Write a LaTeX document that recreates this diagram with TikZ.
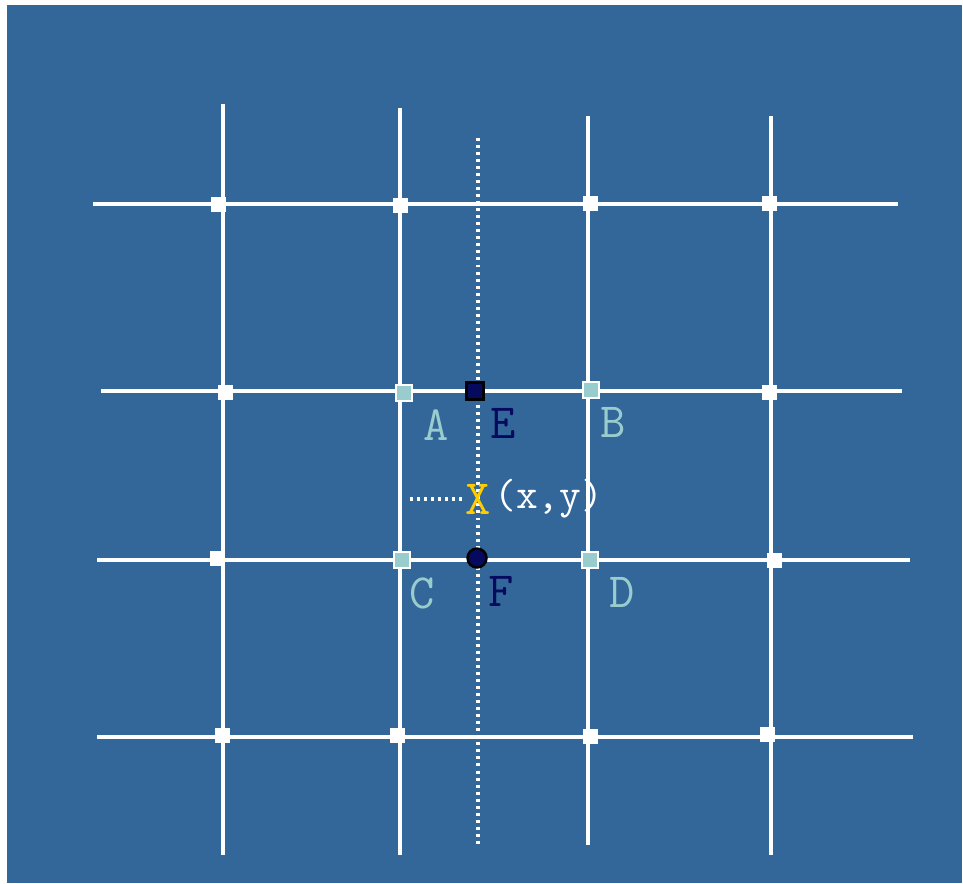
\documentclass[tikz,border=0pt]{standalone}
\usepackage{xcolor}
\usepackage{tikz}
\usetikzlibrary{shapes.geometric, positioning}

\definecolor{bgblue}{RGB}{51,102,153}
\definecolor{paleteal}{RGB}{153,204,204}
\definecolor{deepnavy}{RGB}{5,10,95}
\definecolor{sunyellow}{RGB}{255,204,0}

\begin{document}
\begin{tikzpicture}[
    x=0.02cm, y=-0.02cm,
    gridline/.style={draw=white, line width=2pt},
    guide/.style={draw=white, line width=2pt, dash pattern=on 1.7pt off 2.3pt},
    knot/.style={rectangle, fill=white, inner sep=0pt, minimum size=0.3cm},
    corner/.style={rectangle, fill=paleteal, draw=white, line width=1.5pt,
                 inner sep=0pt, minimum size=0.32cm},
    probe/.style={rectangle, fill=deepnavy, draw=black, line width=1.4pt,
                 inner sep=0pt, minimum size=0.34cm},
    probedot/.style={circle, fill=deepnavy, draw=black, line width=1.4pt,
                 inner sep=0pt, minimum size=0.38cm},
    tag/.style={font=\ttfamily\fontsize{28}{32}\selectfont, inner sep=0pt}
]
\useasboundingbox[fill=white] (0,0) rectangle (963,883);
\fill[bgblue] (7,5) rectangle (962,883);

% grid
\draw[gridline] (223,104) -- (223,855);
\draw[gridline] (400,108) -- (400,855);
\draw[gridline] (588,116) -- (588,845);
\draw[gridline] (771,116) -- (771,855);
\draw[gridline] (93,204) -- (898,204);
\draw[gridline] (101,391) -- (902,391);
\draw[gridline] (97,560) -- (910,560);
\draw[gridline] (97,737) -- (913,737);

% interpolation guides
\draw[guide] (478,138) -- (478,847);
\node[tag, text=sunyellow] (pt) at (478,499) {X};
\coordinate (guidestart) at (410,499);
\draw[guide] (guidestart) -- (pt.west);
\node[tag, text=white, font=\ttfamily\fontsize{24}{28}\selectfont,
      right=0.06cm of pt] (xy) {(x,y)};

% grid knots
\node[knot] (k11) at (218,204) {};
\node[knot] (k12) at (400,205) {};
\node[knot] (k13) at (590,203) {};
\node[knot] (k14) at (769,203) {};
\node[knot] (k21) at (225,392) {};
\node[knot] (k24) at (769,392) {};
\node[knot] (k31) at (217,558) {};
\node[knot] (k34) at (774,560) {};
\node[knot] (k41) at (222,735) {};
\node[knot] (k42) at (397,735) {};
\node[knot] (k43) at (590,736) {};
\node[knot] (k44) at (767,734) {};

% neighbours and intermediate points
\node[corner] (A) at (404,393) {};
\node[corner] (B) at (591,390) {};
\node[corner] (C) at (402,560) {};
\node[corner] (D) at (590,560) {};
\node[probe] (E) at (475,391) {};
\node[probedot] (F) at (477,558) {};

\node[tag, text=paleteal, below right=0.14cm and 0.2cm of A] (labA) {A};
\node[tag, text=deepnavy, below right=0.14cm and 0.1cm of E] (labE) {E};
\node[tag, text=paleteal, below right=0.16cm and 0.0cm of B] (labB) {B};
\node[tag, text=paleteal, below right=0.16cm and -0.04cm of C] (labC) {C};
\node[tag, text=deepnavy, below right=0.2cm and 0.08cm of F] (labF) {F};
\node[tag, text=paleteal, below right=0.16cm and 0.2cm of D] (labD) {D};
\end{tikzpicture}
\end{document}
